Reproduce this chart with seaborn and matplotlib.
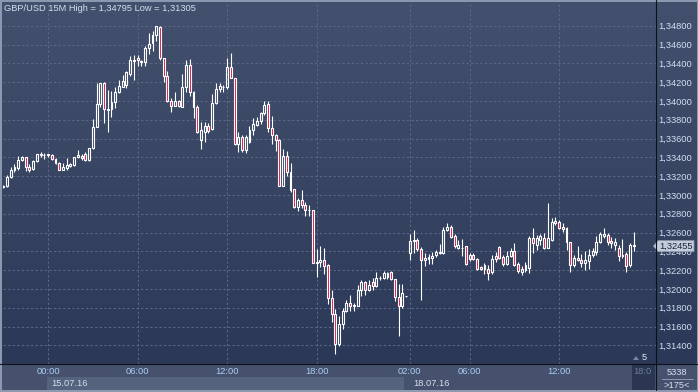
import numpy as np
import pandas as pd
import matplotlib
matplotlib.use("Agg")
import matplotlib.pyplot as plt
import seaborn as sns
from matplotlib.patches import Rectangle, Polygon
from matplotlib.colors import LinearSegmentedColormap
from matplotlib.ticker import FuncFormatter
from matplotlib import transforms

# ---------------- data (GBP/USD 15M) ----------------
opens = [
    1.3308, 1.3310, 1.3319, 1.3326, 1.3329, 1.3337, 1.3340, 1.3330, 1.3328, 1.3336,
    1.3342, 1.3342, 1.3342, 1.3342, 1.3338, 1.3334, 1.3327, 1.3329, 1.3331, 1.3332,
    1.3340, 1.3339, 1.3344, 1.3337, 1.3350, 1.3372, 1.3397, 1.3419, 1.3391, 1.3391,
    1.3399, 1.3409, 1.3415, 1.3417,
    1.3429, 1.3442, 1.3446, 1.3442, 1.3441, 1.3456, 1.3462, 1.3470, 1.3479, 1.3446,
    1.3427, 1.3400, 1.3395, 1.3400, 1.3394, 1.3415, 1.3438, 1.3409, 1.3393, 1.3358,
    1.3367, 1.3373, 1.3370, 1.3398, 1.3413, 1.3415, 1.3415, 1.3436, 1.3424, 1.3354,
    1.3362, 1.3348, 1.3356, 1.3369,
    1.3374, 1.3379, 1.3387, 1.3397, 1.3371, 1.3364, 1.3358, 1.3310, 1.3341, 1.3324,
    1.3306, 1.3287, 1.3295, 1.3289, 1.3284, 1.3284, 1.3228, 1.3229, 1.3231, 1.3225,
    1.3190, 1.3173, 1.3141, 1.3163, 1.3177, 1.3185, 1.3182, 1.3182, 1.3199, 1.3207,
    1.3199, 1.3207, 1.3203, 1.3212, 1.3212,
    1.3213, 1.3218, 1.3211, 1.3191, 1.3182, 1.3192, 1.3238, 1.3251, 1.3252, 1.3242,
    1.3231, 1.3232, 1.3233, 1.3236, 1.3238, 1.3238, 1.3263, 1.3266, 1.3256, 1.3244,
    1.3244, 1.3246, 1.3232, 1.3236, 1.3232, 1.3223, 1.3221, 1.3221, 1.3218, 1.3235,
    1.3245, 1.3234, 1.3227, 1.3235,
    1.3240, 1.3226, 1.3218, 1.3220, 1.3222, 1.3254, 1.3247, 1.3252, 1.3254, 1.3244,
    1.3252, 1.3270, 1.3271, 1.3266, 1.3265, 1.3250, 1.3225, 1.3233, 1.3231, 1.3228,
    1.3230, 1.3236, 1.3239, 1.3250, 1.3256, 1.3257, 1.3251, 1.3247, 1.3244, 1.3236,
    1.3237, 1.3225, 1.3247,
]
highs = [
    1.3311, 1.3321, 1.3330, 1.3333, 1.3341, 1.3341, 1.3340, 1.3333, 1.3337, 1.3344,
    1.3346, 1.3345, 1.3344, 1.3343, 1.3339, 1.3335, 1.3334, 1.3339, 1.3334, 1.3340,
    1.3348, 1.3344, 1.3346, 1.3350, 1.3381, 1.3419, 1.3419, 1.3420, 1.3412, 1.3411,
    1.3415, 1.3422, 1.3428, 1.3432,
    1.3448, 1.3449, 1.3449, 1.3444, 1.3458, 1.3472, 1.3474, 1.34795, 1.34795, 1.3446,
    1.3432, 1.3403, 1.3410, 1.3401, 1.3429, 1.3444, 1.3445, 1.3411, 1.3396, 1.3378,
    1.3378, 1.3377, 1.3407, 1.3419, 1.3419, 1.3417, 1.3446, 1.3451, 1.3424, 1.3367,
    1.3364, 1.3364, 1.3373, 1.3382,
    1.3383, 1.3388, 1.3400, 1.3400, 1.3384, 1.3365, 1.3359, 1.3349, 1.3347, 1.3334,
    1.3306, 1.3297, 1.3305, 1.3292, 1.3289, 1.3284, 1.3242, 1.3246, 1.3243, 1.3226,
    1.3199, 1.3179, 1.3171, 1.3180, 1.3188, 1.3194, 1.3185, 1.3204, 1.3209, 1.3208,
    1.3210, 1.3212, 1.3218, 1.3214, 1.3219,
    1.3218, 1.3219, 1.3211, 1.3205, 1.3205, 1.3192, 1.3258, 1.3263, 1.3254, 1.3245,
    1.3238, 1.3237, 1.3239, 1.3241, 1.3248, 1.3266, 1.3270, 1.3268, 1.3258, 1.3252,
    1.3253, 1.3246, 1.3238, 1.3238, 1.3233, 1.3224, 1.3228, 1.3225, 1.3236, 1.3239,
    1.3246, 1.3236, 1.3240, 1.3243,
    1.3249, 1.3229, 1.3224, 1.3229, 1.3256, 1.3265, 1.3257, 1.3258, 1.3260, 1.3291,
    1.3275, 1.3277, 1.3273, 1.3270, 1.3266, 1.3250, 1.3236, 1.3246, 1.3237, 1.3240,
    1.3242, 1.3243, 1.3256, 1.3261, 1.3265, 1.3259, 1.3255, 1.3254, 1.3247, 1.3253,
    1.3239, 1.3249, 1.3261,
]
lows = [
    1.3307, 1.3308, 1.3318, 1.3324, 1.3327, 1.3336, 1.3325, 1.3324, 1.3327, 1.3335,
    1.3340, 1.3338, 1.3340, 1.3337, 1.3333, 1.3326, 1.3326, 1.3327, 1.3330, 1.3331,
    1.3339, 1.3337, 1.3336, 1.3336, 1.3349, 1.3372, 1.3394, 1.3376, 1.3367, 1.3383,
    1.3392, 1.3408, 1.3415, 1.3414,
    1.3427, 1.3422, 1.3437, 1.3437, 1.3437, 1.3450, 1.3453, 1.3464, 1.3444, 1.3420,
    1.3399, 1.3388, 1.3395, 1.3394, 1.3393, 1.3410, 1.3405, 1.3382, 1.3366, 1.3349,
    1.3356, 1.3366, 1.3369, 1.3397, 1.3410, 1.3409, 1.3413, 1.3424, 1.3353, 1.3346,
    1.3346, 1.3345, 1.3355, 1.3364,
    1.3373, 1.3375, 1.3385, 1.3367, 1.3354, 1.3347, 1.3309, 1.3310, 1.3320, 1.3303,
    1.3286, 1.3283, 1.3286, 1.3278, 1.3278, 1.3228, 1.3213, 1.3223, 1.3216, 1.3184,
    1.3165, 1.31305, 1.3139, 1.3157, 1.3175, 1.3177, 1.3176, 1.3182, 1.3192, 1.3193,
    1.3198, 1.3199, 1.3202, 1.3210, 1.3211,
    1.3211, 1.3210, 1.3187, 1.3150, 1.3180, 1.3191, 1.3231, 1.3238, 1.3240, 1.3188,
    1.3224, 1.3226, 1.3227, 1.3234, 1.3237, 1.3237, 1.3262, 1.3254, 1.3244, 1.3242,
    1.3235, 1.3225, 1.3230, 1.3231, 1.3220, 1.3220, 1.3216, 1.3209, 1.3216, 1.3229,
    1.3232, 1.3224, 1.3225, 1.3234,
    1.3224, 1.3217, 1.3215, 1.3218, 1.3217, 1.3238, 1.3241, 1.3247, 1.3242, 1.3243,
    1.3251, 1.3268, 1.3264, 1.3261, 1.3241, 1.3218, 1.3223, 1.3230, 1.3223, 1.3220,
    1.3221, 1.3234, 1.3236, 1.3249, 1.3254, 1.3247, 1.3243, 1.3241, 1.3230, 1.3233,
    1.3218, 1.3223, 1.3240,
]
closes = [
    1.3310, 1.3319, 1.3326, 1.3330, 1.3337, 1.3340, 1.3330, 1.3327, 1.3336, 1.3343,
    1.3344, 1.3342, 1.3343, 1.3338, 1.3334, 1.3327, 1.3330, 1.3332, 1.3333, 1.3340,
    1.3342, 1.3341, 1.3337, 1.3350, 1.3372, 1.3397, 1.3419, 1.3391, 1.3390, 1.3399,
    1.3409, 1.3416, 1.3421, 1.3431,
    1.3443, 1.3443, 1.3443, 1.3441, 1.3456, 1.3461, 1.3470, 1.34795, 1.3446, 1.3427,
    1.3400, 1.3395, 1.3400, 1.3395, 1.3415, 1.3438, 1.3409, 1.3393, 1.3367, 1.3369,
    1.3373, 1.3368, 1.3398, 1.3413, 1.3416, 1.3415, 1.3436, 1.3424, 1.3354, 1.3362,
    1.3348, 1.3362, 1.3369, 1.3375,
    1.3379, 1.3387, 1.3396, 1.3371, 1.3364, 1.3358, 1.3310, 1.3341, 1.3324, 1.3305,
    1.3287, 1.3295, 1.3289, 1.3284, 1.3284, 1.3228, 1.3229, 1.3231, 1.3224, 1.3190,
    1.3173, 1.3141, 1.3163, 1.3177, 1.3185, 1.3182, 1.3183, 1.3199, 1.3207, 1.3199,
    1.3204, 1.3203, 1.3212, 1.3212, 1.3217,
    1.3217, 1.3211, 1.3191, 1.3182, 1.3196, 1.3192, 1.3251, 1.3252, 1.3242, 1.3231,
    1.3233, 1.3234, 1.3235, 1.3239, 1.3239, 1.3263, 1.3266, 1.3255, 1.3246, 1.3247,
    1.3244, 1.3227, 1.3236, 1.3232, 1.3221, 1.3221, 1.3225, 1.3217, 1.3232, 1.3232,
    1.3233, 1.3226, 1.3235, 1.3240,
    1.3225, 1.3219, 1.3221, 1.3225, 1.3254, 1.3249, 1.3254, 1.3256, 1.3244, 1.3254,
    1.3271, 1.3272, 1.3265, 1.3264, 1.3250, 1.3225, 1.3233, 1.3231, 1.3228, 1.3231,
    1.3236, 1.3240, 1.3250, 1.3258, 1.3258, 1.3250, 1.3249, 1.3250, 1.3235, 1.3235,
    1.3224, 1.3247, 1.32455,
]
friday_bars = 108
friday_start = "2016-07-14 21:00"
monday_start = "2016-07-18 01:45"
time_ticks = ["2016-07-15 00:00", "2016-07-15 06:00", "2016-07-15 12:00", "2016-07-15 18:00",
              "2016-07-18 02:00", "2016-07-18 06:00", "2016-07-18 12:00"]
time_labels = ["00:00", "06:00", "12:00", "18:00", "02:00", "06:00", "12:00"]
date_ticks = ["2016-07-15 00:00", "2016-07-18 02:00"]
date_labels = ["15.07.16", "18.07.16"]
price_ticks = [1.314, 1.316, 1.318, 1.320, 1.322, 1.324, 1.326, 1.328, 1.330,
               1.332, 1.334, 1.336, 1.338, 1.340, 1.342, 1.344, 1.346, 1.348]
title = "GBP/USD 15M High = 1,34795 Low = 1,31305"
last_price = 1.32455
info_top, info_bottom = "5338", ">175<"

# ---------------- frame ----------------
n = len(opens)
times = pd.date_range(friday_start, periods=friday_bars, freq="15min").append(
    pd.date_range(monday_start, periods=n - friday_bars, freq="15min"))
df = pd.DataFrame({"time": times, "open": opens, "high": highs, "low": lows, "close": closes})
df["i"] = np.arange(n)
df["top"] = df[["open", "close"]].max(axis=1)
df["bot"] = df[["open", "close"]].min(axis=1)
df["up"] = df["close"] >= df["open"]

sns.set_theme(style="dark")
plt.rcParams["font.family"] = ["Liberation Sans", "DejaVu Sans"]

W, H = 698, 392
fig = plt.figure(figsize=(W / 100, H / 100), dpi=100)
fig.patch.set_facecolor("#2c3958")

# background layer (pixel coords)
bg = fig.add_axes([0, 0, 1, 1], zorder=0)
cmap = LinearSegmentedColormap.from_list("bgc", ["#44516e", "#2b3857"])
bg.imshow(np.linspace(0, 1, 256)[:, None], extent=[0, W, 363.5, 0], cmap=cmap,
          aspect="auto", origin="upper", interpolation="bilinear")
bg.add_patch(Rectangle((0, 363.5), W, H - 363.5, color="#46526d", lw=0))
bg.set_xlim(0, W)
bg.set_ylim(H, 0)
bg.axis("off")

# main axes
x0px, x1px, y0px, y1px = 2.5, 655.5, 2.0, 363.5
ax = fig.add_axes([x0px / W, (H - y1px) / H, (x1px - x0px) / W, (y1px - y0px) / H], zorder=1)
ax.patch.set_visible(False)
step = 3.73
ax.set_xlim((x0px - 3.3) / step, (x1px - 3.3) / step)
ax.set_ylim(1.348 - (y1px - 25.7) / 9400, 1.348 + (25.7 - y0px) / 9400)
for s in ax.spines.values():
    s.set_visible(False)

ax.grid(True, color="#5b6884", linestyle=(0, (2.2, 2.2)), linewidth=0.75)
ax.set_axisbelow(True)

# candles
wick_kw = dict(color="white", linewidth=0.8, zorder=3)
ax.vlines(df["i"], df["top"], df["high"], **wick_kw)
ax.vlines(df["i"], df["low"], df["bot"], **wick_kw)
upd = df[df["up"]]
dnd = df[~df["up"]]
ax.bar(upd["i"], upd["top"] - upd["bot"], bottom=upd["bot"], width=0.52,
       facecolor="none", edgecolor="white", linewidth=0.8, zorder=4)
ax.bar(dnd["i"], dnd["top"] - dnd["bot"], bottom=dnd["bot"], width=0.52,
       facecolor="#e3103f", edgecolor="white", linewidth=0.8, zorder=4)

# axes ticks
tpos = [times.get_loc(pd.Timestamp(t)) for t in time_ticks]
ax.set_xticks(tpos)
ax.set_xticklabels(time_labels)
ax.tick_params(axis="x", length=0, pad=2.2, labelsize=6.7, labelcolor="#a9cbf2")
ax.yaxis.tick_right()
ax.set_yticks(price_ticks)
ax.yaxis.set_major_formatter(FuncFormatter(lambda v, p: f"{v:.5f}".replace(".", ",")))
ax.tick_params(axis="y", length=0, pad=1.8, labelsize=6.7, labelcolor="#d2def2")

# date row
blend = transforms.blended_transform_factory(ax.transData, fig.transFigure)
dpos = [times.get_loc(pd.Timestamp(t)) for t in date_ticks]
ax.add_patch(Rectangle((dpos[0] - 0.3, (H - 390) / H), friday_bars - 0.5 - (dpos[0] - 0.3),
                       13 / H, transform=blend, clip_on=False, facecolor="#56637e",
                       edgecolor="none", zorder=0))
for p, lab in zip(dpos, date_labels):
    ax.annotate(lab, xy=(p, H - 383), xycoords=("data", "figure pixels"),
                xytext=(2.5, 0), textcoords="offset points", ha="left", va="center",
                fontsize=6.7, color="#d6deec", annotation_clip=False)

ax.text(0.002, 1 - 6.5 / (y1px - y0px), title, transform=ax.transAxes, ha="left",
        va="center", fontsize=6.7, color="#d6deec")

# overlay (pixel coords)
ov = fig.add_axes([0, 0, 1, 1], zorder=3)
ov.set_xlim(0, W)
ov.set_ylim(H, 0)
ov.axis("off")
ov.plot([x1px, x1px], [0, 390], color="#0c1019", lw=0.8)
ov.plot([0, W], [y1px, y1px], color="#0c1019", lw=0.8)
ov.add_patch(Rectangle((632, 364), 23, 26, facecolor="#2b3752", edgecolor="none"))
ov.text(633.5, 372, "18:0", fontsize=6.7, color="#6f7c96", ha="left", va="center")
ov.text(641.5, 358, "5", fontsize=6.7, color="#e6ecf5", ha="left", va="center")
ov.add_patch(Polygon([[633, 360], [636, 356], [639, 360]], closed=True,
                     facecolor="#7b879e", edgecolor="none"))
ov.text(677, 372.5, info_top, fontsize=6.7, color="#d2def2", ha="center", va="center")
ov.plot([662, 693], [378.5, 378.5], color="#8d9ab0", lw=0.7)
ov.text(677, 385, info_bottom, fontsize=6.7, color="#d2def2", ha="center", va="center")

# last price badge
yb = 25.7 + (1.348 - last_price) * 9400
ov.add_patch(Polygon([[653.5, yb], [658, yb - 5.5], [694, yb - 5.5], [694, yb + 5.5], [658, yb + 5.5]],
                     closed=True, facecolor="#c3ccdb", edgecolor="#8f9ab0", lw=0.6))
ov.text(676, yb, f"{last_price:.5f}".replace(".", ","), fontsize=6.7, color="#1c2436",
        ha="center", va="center")

# outer frame
ov.add_patch(Rectangle((0.5, 0.5), W - 1, H - 1.5, fill=False, edgecolor="#8f9bb1", lw=1.4))

fig.savefig("out.png", dpi=100)
